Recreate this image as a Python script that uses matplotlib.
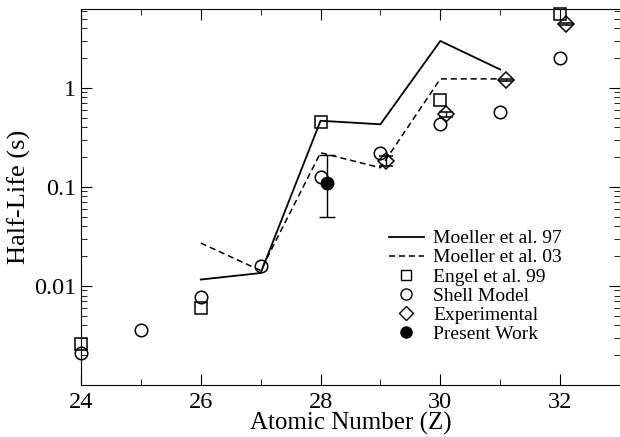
import matplotlib
matplotlib.use("Agg")
import matplotlib.pyplot as plt
from matplotlib.lines import Line2D
import numpy as np

plt.rcParams['font.family'] = ['Liberation Serif', 'DejaVu Serif']

# Data
z_m97 = [26, 27, 28, 29, 30, 31]
t_m97 = [0.0116, 0.0135, 0.465, 0.428, 2.97, 1.53]

z_m03 = [26, 27, 28, 29, 30, 31]
t_m03 = [0.0271, 0.0143, 0.221, 0.156, 1.23, 1.23]

z_engel = [24, 26, 28, 30, 32]
t_engel = [0.00257, 0.0060, 0.455, 0.752, 5.6]

z_shell = [24, 25, 26, 27, 28, 29, 30, 31, 32]
t_shell = [0.00211, 0.00355, 0.00774, 0.0160, 0.127, 0.218, 0.428, 0.565, 2.0]

z_exp = [29.1, 30.1, 31.1, 32.1]
t_exp = [0.184, 0.54, 1.195, 4.38]
t_exp_err = [0.02, 0.03, 0.03, 0.1]

z_pw = [28.1]
t_pw = [0.109]
t_pw_lo = [0.059]
t_pw_hi = [0.101]

labels = ['Moeller et al. 97', 'Moeller et al. 03', 'Engel et al. 99',
          'Shell Model', 'Experimental', 'Present Work']

fig = plt.figure(figsize=(6.2, 4.37), dpi=100)
ax = fig.add_axes([81/620, (437-385)/437, 539/620, (385-9.3)/437])

ax.plot(z_m97, t_m97, '-', color='black', lw=1.3)
ax.plot(z_m03, t_m03, '--', color='black', lw=1.1, dashes=(4, 2.5))
ax.plot(z_engel, t_engel, 's', mfc='none', mec='black', ms=8, mew=1.1, clip_on=False)
ax.plot(z_shell, t_shell, 'o', mfc='none', mec='black', ms=9, mew=1.1, clip_on=False)
ax.errorbar(z_exp, t_exp, yerr=t_exp_err, fmt='D', mfc='none', mec='black', ms=8, mew=1.1,
            ecolor='black', elinewidth=1, capsize=5)
ax.errorbar(z_pw, t_pw, yerr=[t_pw_lo, t_pw_hi], fmt='o', color='black', ms=9,
            ecolor='black', elinewidth=1, capsize=6)

ax.set_yscale('log')
ax.set_xlim(24, 33)
ax.set_ylim(0.001, 6.2)
ax.set_xticks([24, 26, 28, 30, 32])
ax.set_xticks(np.arange(24, 34, 1), minor=True)
ax.set_yticks([0.01, 0.1, 1])
ax.set_yticklabels(['0.01', '0.1', '1'])
ax.tick_params(axis='both', which='both', direction='in', top=True, right=True)
ax.tick_params(axis='both', which='major', length=8, labelsize=17.5)
ax.tick_params(axis='x', which='major', pad=5)
ax.tick_params(axis='both', which='minor', length=4)

ax.set_xlabel('Atomic Number (Z)', fontsize=18, labelpad=-1)
ax.set_ylabel('Half-Life (s)', fontsize=19, labelpad=2)

h = [Line2D([], [], color='black', lw=1.3),
     Line2D([], [], color='black', lw=1.1, ls='--', dashes=(4, 2.5)),
     Line2D([], [], marker='s', ls='none', mfc='none', mec='black', ms=7),
     Line2D([], [], marker='o', ls='none', mfc='none', mec='black', ms=8),
     Line2D([], [], marker='D', ls='none', mfc='none', mec='black', ms=7),
     Line2D([], [], marker='o', ls='none', color='black', ms=8)]
leg = ax.legend(h, labels, loc='upper left', bbox_to_anchor=(379/620, 1 - 220/437),
                bbox_transform=fig.transFigure, frameon=False, fontsize=14,
                handlelength=1.8, handletextpad=0.5, labelspacing=0.08, borderpad=0)

fig.savefig('out.png', dpi=100)
